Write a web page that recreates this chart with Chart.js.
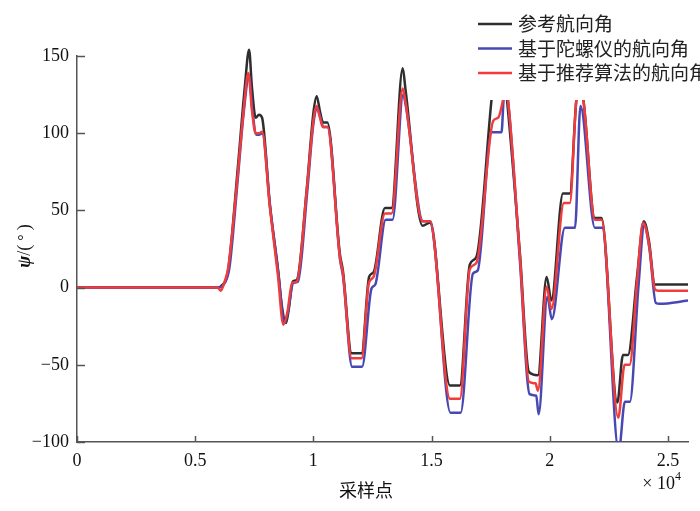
<!DOCTYPE html>
<html>
<head>
<meta charset="utf-8">
<script src="https://cdn.jsdelivr.net/npm/chart.js@4.4.0/dist/chart.umd.min.js"></script>
<style>
  html, body { margin: 0; padding: 0; background: #fff; }
  #wrap { width: 700px; height: 511px; }
</style>
</head>
<body>
<div id="wrap"><canvas id="chart" width="700" height="511"></canvas></div>
<script>
const seriesNames = ['参考航向角', '基于陀螺仪的航向角', '基于推荐算法的航向角'];
const seriesColors = ['#2e2e2e', '#4848b4', '#f03c3c'];

// 参考航向角
const refX = [0, 5900, 6100, 6400, 6800, 7100, 7280, 7400, 7560, 7700, 7830, 8160, 8510, 8660, 8840, 8950,
  9130, 9300, 9720, 10000, 10140, 10280, 10410, 10590, 11120, 11250, 11620, 12040, 12360, 12550, 13030, 13310,
  13780, 13900, 14620, 14930, 15780, 16200, 16620, 16900, 17540, 17870, 18190, 18740, 19120, 19500, 19870,
  20070, 20560, 20850, 21130, 21280, 21420, 21910, 22190, 22860, 23100, 23310, 23700, 23980, 24200, 24450,
  24600, 25850];
const refY = [0, 0, 1, 12, 77, 130, 154, 130, 110, 112, 110, 54, 11, -11, -23, -15,
  4, 5, 64, 113, 124, 114, 107, 107, 22, 11, -42.5, -42.5, 7, 10, 51.6, 51.6,
  142, 128, 40, 42, -63.4, -63.4, 15, 20, 122, 165, 122, 22, -54.6, -56.8, 6.8,
  -8.3, 61, 61, 122, 130, 122, 45, 45, -74.4, -43.6, -43.6, 8, 43, 30, 2,
  2, 2];

// 基于陀螺仪的航向角
const gyroX = [0, 5980, 6250, 6450, 6800, 7050, 7280, 7420, 7590, 7700, 7840, 8170, 8520, 8780, 8920,
  9150, 9350, 9740, 10000, 10160, 10300, 10420, 10600, 11130, 11260, 11640, 12060, 12460, 12620, 13060, 13350,
  13800, 13920, 14640, 14950, 15800, 16230, 16750, 16950, 17540, 17960, 18050, 18130, 18230, 18740, 19150,
  19430, 19530, 19900, 20090, 20640, 21070, 21300, 21910, 22220, 22920, 23180, 23390, 23750, 24000, 24220,
  24490, 24650, 25850];
const gyroY = [0, 0, 3, 13, 70, 113, 137, 115, 99, 99, 100, 52, 9, -23, -16,
  3, 4, 62, 106, 116, 110, 104, 104, 18, 7, -51.3, -51.3, -0.6, 2, 44, 44,
  125, 117, 43, 43, -81, -81, 9, 11, 100.6, 100.6, 122, 128, 122, 17, -69,
  -70, -82, -6, -20.5, 38.8, 38.8, 117.6, 38.8, 38.8, -106, -74, -74, 0, 40, 25,
  -10, -10.5, -8.4];

// 基于推荐算法的航向角
const algoX = [0, 5950, 6080, 6250, 6400, 6800, 7050, 7250, 7400, 7560, 7700, 7830, 8160, 8500, 8730, 8900,
  9100, 9300, 9720, 10000, 10130, 10280, 10400, 10590, 11120, 11250, 11620, 12040, 12350, 12550, 13030, 13310,
  13780, 13900, 14620, 14930, 15780, 16200, 16620, 16900, 17610, 17820, 18030, 18120, 18230, 18740, 19120,
  19400, 19500, 19870, 20070, 20600, 20850, 21130, 21280, 21420, 21910, 22190, 22900, 23170, 23380, 23700,
  23950, 24200, 24450, 24600, 25850];
const algoY = [0, 0, -2, 4, 13, 73, 115, 139, 115, 100, 100, 101, 52, 8, -24, -16,
  3, 4, 63, 108, 117.6, 110, 104, 104, 20, 9, -45.8, -45.8, 3, 7, 48, 48,
  129, 120, 43, 43, -72, -72, 12, 16, 108, 110, 122, 130, 122, 20, -61,
  -62, -66.8, 0.5, -13.9, 54.8, 54.8, 122, 128, 122, 44, 44, -84.3, -50, -50, 5,
  42, 28, -1, -2, -2];

const xTicks = [0, 5000, 10000, 15000, 20000, 25000];
const yTicks = [-100, -50, 0, 50, 100, 150];

const serif = '"Liberation Serif", "Times New Roman", serif';
const cjk = '"Noto Sans CJK SC", sans-serif';

function pairs(xs, ys) {
  return xs.map((x, i) => ({ x: x, y: ys[i] }));
}

// inward tick marks on the two axes
const innerTicks = {
  id: 'innerTicks',
  afterDatasetsDraw(chart) {
    const { ctx, chartArea, scales } = chart;
    ctx.save();
    ctx.strokeStyle = '#555';
    ctx.lineWidth = 1.5;
    scales.y.ticks.forEach(t => {
      const py = Math.round(scales.y.getPixelForValue(t.value)) + 0.5;
      ctx.beginPath();
      ctx.moveTo(chartArea.left, py);
      ctx.lineTo(chartArea.left + 8, py);
      ctx.stroke();
    });
    scales.x.ticks.forEach(t => {
      const px = Math.round(scales.x.getPixelForValue(t.value)) + 0.5;
      ctx.beginPath();
      ctx.moveTo(px, chartArea.bottom);
      ctx.lineTo(px, chartArea.bottom - 6);
      ctx.stroke();
    });
    ctx.restore();
  }
};

// boxed legend in the upper right, covering the lines below it
const legendBox = {
  id: 'legendBox',
  afterDatasetsDraw(chart) {
    const ctx = chart.ctx;
    ctx.save();
    ctx.fillStyle = '#fff';
    ctx.fillRect(470, 0, 230, 100);
    ctx.font = '19px ' + cjk;
    ctx.textBaseline = 'middle';
    chart.data.datasets.forEach((ds, i) => {
      const y = 24 + i * 24.5;
      ctx.strokeStyle = ds.borderColor;
      ctx.lineWidth = 2.5;
      ctx.beginPath();
      ctx.moveTo(478, y);
      ctx.lineTo(512, y);
      ctx.stroke();
      ctx.fillStyle = '#222';
      ctx.fillText(ds.label, 518, y);
    });
    ctx.restore();
  }
};

const axisTitles = {
  id: 'axisTitles',
  afterDraw(chart) {
    const ctx = chart.ctx;
    ctx.save();
    ctx.fillStyle = '#111';
    ctx.textBaseline = 'middle';

    // x title
    ctx.font = '18px ' + cjk;
    ctx.textAlign = 'center';
    ctx.fillText('采样点', 366, 490);

    // x10^4
    ctx.textAlign = 'left';
    ctx.font = '18px ' + serif;
    const base = '× 10';
    const w1 = ctx.measureText(base).width;
    ctx.font = '12px ' + serif;
    const w2 = ctx.measureText('4').width;
    const x0 = 681 - w1 - w2;
    ctx.font = '18px ' + serif;
    ctx.fillText(base, x0, 484);
    ctx.font = '12px ' + serif;
    ctx.fillText('4', x0 + w1, 477);

    // y title, rotated
    ctx.translate(25, 246);
    ctx.rotate(-Math.PI / 2);
    const parts = [
      ['ψ', 'italic bold 18px ' + serif],
      ['/(', '18px ' + serif],
      [' ° ', '16px ' + serif],
      [')', '18px ' + serif]
    ];
    let total = 0;
    parts.forEach(p => { ctx.font = p[1]; total += ctx.measureText(p[0]).width; });
    let cx = -total / 2;
    parts.forEach(p => {
      ctx.font = p[1];
      ctx.fillText(p[0], cx, 0);
      cx += ctx.measureText(p[0]).width;
    });
    ctx.restore();
  }
};

const datasets = [
  { label: seriesNames[0], data: pairs(refX, refY), borderColor: seriesColors[0], order: 3 },
  { label: seriesNames[1], data: pairs(gyroX, gyroY), borderColor: seriesColors[1], order: 2 },
  { label: seriesNames[2], data: pairs(algoX, algoY), borderColor: seriesColors[2], order: 1 }
].map(ds => Object.assign(ds, {
  borderWidth: 2.5,
  pointRadius: 0,
  fill: false,
  cubicInterpolationMode: 'monotone',
  clip: { left: 0, right: 0, bottom: 0, top: false }
}));

new Chart(document.getElementById('chart'), {
  type: 'line',
  data: { datasets: datasets },
  options: {
    responsive: false,
    animation: false,
    devicePixelRatio: 1,
    layout: { padding: { top: 56, right: 12, left: 0, bottom: 0 } },
    plugins: {
      legend: { display: false },
      tooltip: { enabled: false }
    },
    scales: {
      x: {
        type: 'linear',
        min: 0,
        max: 25850,
        afterBuildTicks: s => { s.ticks = xTicks.map(v => ({ value: v })); },
        afterFit: s => { s.height = 69; },
        ticks: {
          font: { family: serif, size: 18 },
          color: '#111',
          padding: 8,
          maxRotation: 0,
          autoSkip: false,
          callback: v => String(v / 10000)
        },
        grid: { drawOnChartArea: false, drawTicks: false },
        border: { color: '#555', width: 1.5 }
      },
      y: {
        min: -100,
        max: 150,
        afterBuildTicks: s => { s.ticks = yTicks.map(v => ({ value: v })); },
        afterFit: s => { s.width = 77; },
        ticks: {
          font: { family: serif, size: 18 },
          color: '#111',
          padding: 8,
          callback: v => String(v).replace('-', '\u2212')
        },
        grid: { drawOnChartArea: false, drawTicks: false },
        border: { color: '#555', width: 1.5 }
      }
    }
  },
  plugins: [innerTicks, legendBox, axisTitles]
});
</script>
</body>
</html>
